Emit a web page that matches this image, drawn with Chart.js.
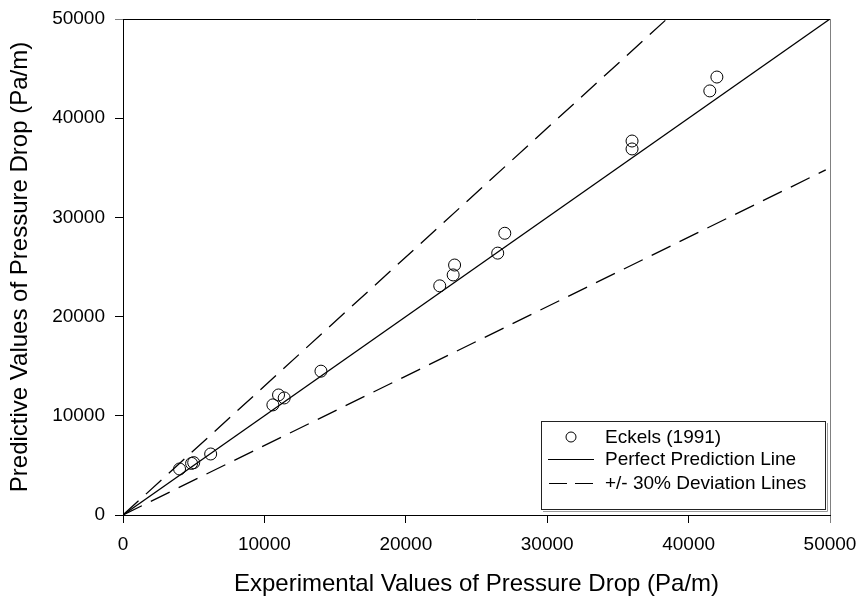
<!DOCTYPE html>
<html>
<head>
<meta charset="utf-8">
<script src="https://cdn.jsdelivr.net/npm/chart.js@4/dist/chart.umd.min.js"></script>
<style>
  html, body { margin: 0; padding: 0; background: #fff; }
  #caixa { width: 861px; height: 599px; }
</style>
</head>
<body>
<div id="caixa"><canvas id="grafico" width="861" height="599"></canvas></div>
<script>
// pontos medidos (Eckels 1991)
const experimental = [4000, 4850, 5000, 6200, 10600, 11000, 11400, 14000, 22400, 23350, 23450, 26500, 27000, 36000, 36000, 41500, 42000];
const predito = [4640, 5200, 5280, 6150, 11100, 12100, 11800, 14500, 23100, 24200, 25200, 26400, 28400, 36900, 37700, 42750, 44150];

// linhas de referencia
const perfeitaX = [0, 50000];
const perfeitaY = [0, 50000];
const superiorX = [0, 38460];
const superiorY = [0, 50000];
const inferiorX = [0, 49700];
const inferiorY = [0, 34790];

const marcas = [0, 10000, 20000, 30000, 40000, 50000];

const rotulos = ["Eckels (1991)", "Perfect Prediction Line", "+/- 30% Deviation Lines"];
const tituloX = "Experimental Values of Pressure Drop (Pa/m)";
const tituloY = "Predictive Values of Pressure Drop (Pa/m)";

const fonte = "'Liberation Sans', Arial, Helvetica, sans-serif";
Chart.defaults.font.family = fonte;
Chart.defaults.color = "#000";

function pares(xs, ys) {
  return xs.map((x, i) => ({ x, y: ys[i] }));
}

function corMarca(ctx) {
  return ctx.tick && ctx.tick.value === 50000 ? "#808080" : "#000";
}

const moldura = {
  id: "moldura",
  afterDraw(chart) {
    const { ctx, chartArea: { left, right, top, bottom } } = chart;
    ctx.save();
    ctx.lineWidth = 1;
    ctx.strokeStyle = "#000";
    ctx.beginPath();
    ctx.moveTo(left, top + 0.5);
    ctx.lineTo(right, top + 0.5);
    ctx.stroke();
    ctx.strokeStyle = "#808080";
    ctx.beginPath();
    ctx.moveTo(right + 0.5, top);
    ctx.lineTo(right + 0.5, bottom);
    ctx.stroke();
    ctx.restore();
  }
};

const legenda = {
  id: "legenda",
  afterDraw(chart) {
    const { ctx } = chart;
    const x0 = 541, y0 = 421, largura = 284, altura = 88;
    ctx.save();
    ctx.fillStyle = "#fff";
    ctx.fillRect(x0, y0, largura, altura);
    ctx.strokeStyle = "#222";
    ctx.lineWidth = 1;
    ctx.strokeRect(x0 + 0.5, y0 + 0.5, largura, altura);
    ctx.strokeStyle = "#999";
    ctx.beginPath();
    ctx.moveTo(x0 + largura + 2.5, y0 + 2);
    ctx.lineTo(x0 + largura + 2.5, y0 + altura + 2.5);
    ctx.lineTo(x0 + 2, y0 + altura + 2.5);
    ctx.stroke();

    const linhas = [437, 459, 483];
    ctx.strokeStyle = "#000";

    // simbolo do circulo
    ctx.beginPath();
    ctx.arc(571, linhas[0], 5, 0, Math.PI * 2);
    ctx.stroke();

    // linha cheia
    ctx.beginPath();
    ctx.moveTo(548, linhas[1] + 0.5);
    ctx.lineTo(594, linhas[1] + 0.5);
    ctx.stroke();

    // linha tracejada
    ctx.setLineDash([18, 8]);
    ctx.beginPath();
    ctx.moveTo(549, linhas[2] + 0.5);
    ctx.lineTo(594, linhas[2] + 0.5);
    ctx.stroke();
    ctx.setLineDash([]);

    ctx.fillStyle = "#000";
    ctx.font = "19px " + fonte;
    ctx.textBaseline = "middle";
    rotulos.forEach((texto, i) => ctx.fillText(texto, 605, linhas[i] + 1));
    ctx.restore();
  }
};

const eixoComum = {
  type: "linear",
  min: 0,
  max: 50000,
  afterBuildTicks(scale) {
    scale.ticks = marcas.map(value => ({ value }));
  },
  grid: {
    drawOnChartArea: false,
    drawTicks: true,
    tickLength: 8,
    color: corMarca
  },
  border: { display: true, color: "#000", width: 1 }
};

new Chart(document.getElementById("grafico"), {
  type: "scatter",
  data: {
    datasets: [
      {
        label: rotulos[0],
        data: pares(experimental, predito),
        pointStyle: "circle",
        pointRadius: 6,
        pointBorderWidth: 1,
        pointBorderColor: "#000",
        pointBackgroundColor: "rgba(0,0,0,0)",
        showLine: false,
        order: 0
      },
      {
        label: rotulos[1],
        data: pares(perfeitaX, perfeitaY),
        showLine: true,
        borderColor: "#000",
        borderWidth: 1.3,
        pointRadius: 0,
        order: 1
      },
      {
        label: rotulos[2],
        data: pares(superiorX, superiorY),
        showLine: true,
        borderColor: "#000",
        borderWidth: 1.3,
        borderDash: [21, 10],
        pointRadius: 0,
        order: 2
      },
      {
        label: rotulos[2],
        data: pares(inferiorX, inferiorY),
        showLine: true,
        borderColor: "#000",
        borderWidth: 1.3,
        borderDash: [21, 10],
        pointRadius: 0,
        order: 2
      }
    ]
  },
  options: {
    responsive: false,
    animation: false,
    layout: { padding: { top: 19, right: 31, left: 0, bottom: 0 } },
    plugins: {
      legend: { display: false },
      tooltip: { enabled: false }
    },
    scales: {
      x: {
        ...eixoComum,
        position: "bottom",
        afterFit(scale) {
          scale.height = 84;
          scale.paddingLeft = 0;
          scale.paddingRight = 0;
        },
        ticks: {
          font: { size: 19 },
          color: "#000",
          padding: 10,
          maxRotation: 0,
          autoSkip: false,
          callback: v => String(v)
        },
        title: {
          display: true,
          text: tituloX,
          font: { size: 24 },
          color: "#000",
          padding: { top: 0, bottom: 0 }
        }
      },
      y: {
        ...eixoComum,
        position: "left",
        afterFit(scale) {
          scale.width = 123;
          scale.paddingTop = 0;
          scale.paddingBottom = 0;
        },
        ticks: {
          font: { size: 19 },
          color: "#000",
          padding: 10,
          autoSkip: false,
          callback: v => String(v)
        },
        title: {
          display: true,
          text: tituloY,
          font: { size: 24 },
          color: "#000",
          padding: { top: 6, bottom: 0 }
        }
      }
    }
  },
  plugins: [moldura, legenda]
});
</script>
</body>
</html>
